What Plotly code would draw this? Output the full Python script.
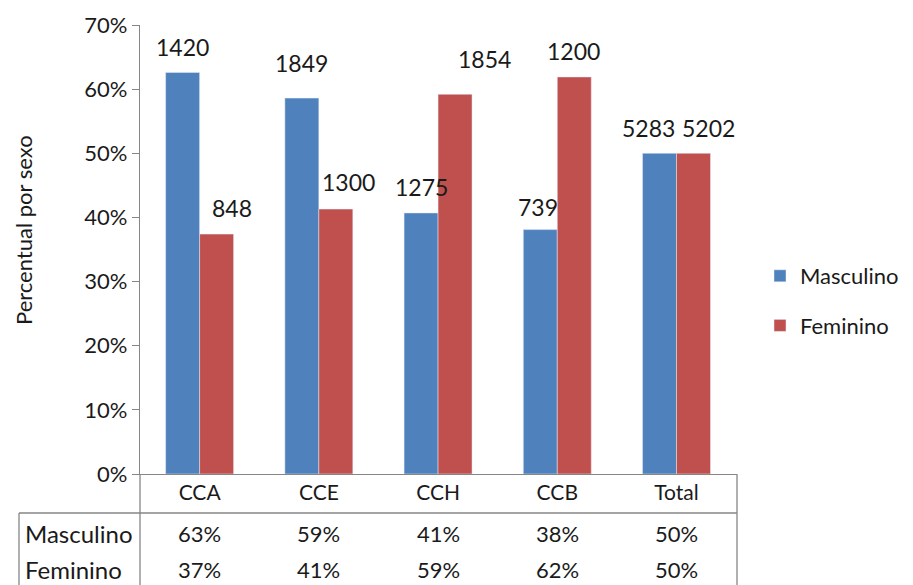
import plotly.graph_objects as go

categories = ["CCA", "CCE", "CCH", "CCB", "Total"]
masc_pct = [62.6, 58.6, 40.7, 38.1, 50.0]
fem_pct = [37.4, 41.3, 59.2, 61.9, 50.0]
masc_n = [1420, 1849, 1275, 739, 5283]
fem_n = [848, 1300, 1854, 1200, 5202]
table_masc = [63, 59, 41, 38, 50]
table_fem = [37, 41, 59, 62, 50]
y_ticks = [0, 10, 20, 30, 40, 50, 60, 70]
y_title = "Percentual por sexo"

# label placement offsets (px) relative to bar top center
masc_lbl_dx = [0, 0, 0, -2, -11]
masc_lbl_dy = [25, 35, 26, 23, 25]
fem_lbl_dx = [15, 13, 29, -1, 15]
fem_lbl_dy = [26, 27, 35, 26, 25]

BLUE = "#4F81BD"
RED = "#C0504D"
FONT = "Lato"
GRAY = "#868686"
TXT = "#1a1a1a"
BARGAP = 0.43

# the page adds an 8px body margin: compensate so the plot lands where the reference has it
OFF = 8
W, H = 913 - OFF, 585 - OFF
ML, MT, MR, MB = 140 - OFF, 25 - OFF, 176, 111
plot_w = W - ML - MR
plot_h = H - MT - MB

def py(px):  # page pixel y -> paper y
    return (474 - px) / plot_h

def pxx(px):  # page pixel x -> paper x
    return (px - 140) / plot_w

fig = go.Figure()
fig.add_trace(go.Bar(name="Masculino", x=categories, y=masc_pct, marker_color=BLUE,
                     legendgroup="m"))
fig.add_trace(go.Bar(name="Feminino", x=categories, y=fem_pct, marker_color=RED,
                     legendgroup="f"))

half = (1 - BARGAP) / 4
annotations = []
for i, c in enumerate(categories):
    annotations.append(dict(x=i - half, y=masc_pct[i], xref="x", yref="y", text=str(masc_n[i]),
                            showarrow=False, xshift=masc_lbl_dx[i], yshift=masc_lbl_dy[i],
                            xanchor="center", yanchor="middle",
                            font=dict(size=23, color=TXT, family=FONT)))
    annotations.append(dict(x=i + half, y=fem_pct[i], xref="x", yref="y", text=str(fem_n[i]),
                            showarrow=False, xshift=fem_lbl_dx[i], yshift=fem_lbl_dy[i],
                            xanchor="center", yanchor="middle",
                            font=dict(size=23, color=TXT, family=FONT)))

ROW1, ROW2 = 533, 569
for i, c in enumerate(categories):
    annotations.append(dict(x=i, y=py(ROW1), xref="x", yref="paper", text=f"{table_masc[i]}%",
                            showarrow=False, xanchor="center", yanchor="middle",
                            font=dict(size=22, color=TXT, family=FONT)))
    annotations.append(dict(x=i, y=py(ROW2), xref="x", yref="paper", text=f"{table_fem[i]}%",
                            showarrow=False, xanchor="center", yanchor="middle",
                            font=dict(size=22, color=TXT, family=FONT)))
for name, ypx in [("Masculino", ROW1), ("Feminino", ROW2)]:
    annotations.append(dict(x=pxx(23), y=py(ypx), xref="paper", yref="paper", text=name,
                            xanchor="left", yanchor="middle", showarrow=False,
                            font=dict(size=24, color=TXT, family=FONT)))

# y-axis title (placed like the reference, above the plot's vertical centre)
annotations.append(dict(x=pxx(23), y=py(230), xref="paper", yref="paper", text=y_title,
                        textangle=-90, xanchor="center", yanchor="middle", showarrow=False,
                        font=dict(size=22, color=TXT, family=FONT)))

line = dict(color=GRAY, width=1.3)
shapes = [
    dict(type="line", xref="paper", yref="paper", x0=0, x1=0, y0=0, y1=py(600), line=line),
    dict(type="line", xref="paper", yref="paper", x0=1, x1=1, y0=0, y1=py(600), line=line),
    dict(type="line", xref="paper", yref="paper", x0=pxx(19), x1=1, y0=py(513), y1=py(513), line=line),
    dict(type="line", xref="paper", yref="paper", x0=pxx(19), x1=pxx(19),
         y0=py(513), y1=py(600), line=line),
]

fig.update_layout(
    width=W, height=H,
    margin=dict(l=ML, r=MR, t=MT, b=MB, autoexpand=False),
    paper_bgcolor="white", plot_bgcolor="white",
    barmode="group", bargap=BARGAP, bargroupgap=0,
    font=dict(family=FONT, color=TXT),
    annotations=annotations,
    shapes=shapes,
    legend=dict(xref="container", yref="container",
                x=(760 - OFF) / W, y=1 - (301 - OFF) / H, xanchor="left", yanchor="middle",
                font=dict(size=22, family=FONT, color=TXT), tracegroupgap=18,
                traceorder="grouped", bgcolor="rgba(0,0,0,0)"),
    xaxis=dict(showline=True, linecolor=GRAY, linewidth=1.3, ticks="", automargin=False,
               tickfont=dict(size=21, family=FONT, color=TXT), showgrid=False),
    yaxis=dict(range=[0, 70], tickvals=y_ticks, ticktext=[f"{v}%" for v in y_ticks],
               showline=True, linecolor=GRAY, automargin=False,
               linewidth=1.3, ticks="outside", ticklen=7, tickcolor=GRAY, showgrid=False,
               zeroline=False, tickfont=dict(size=22, family=FONT, color=TXT)),
)

fig.write_html("out.html")
